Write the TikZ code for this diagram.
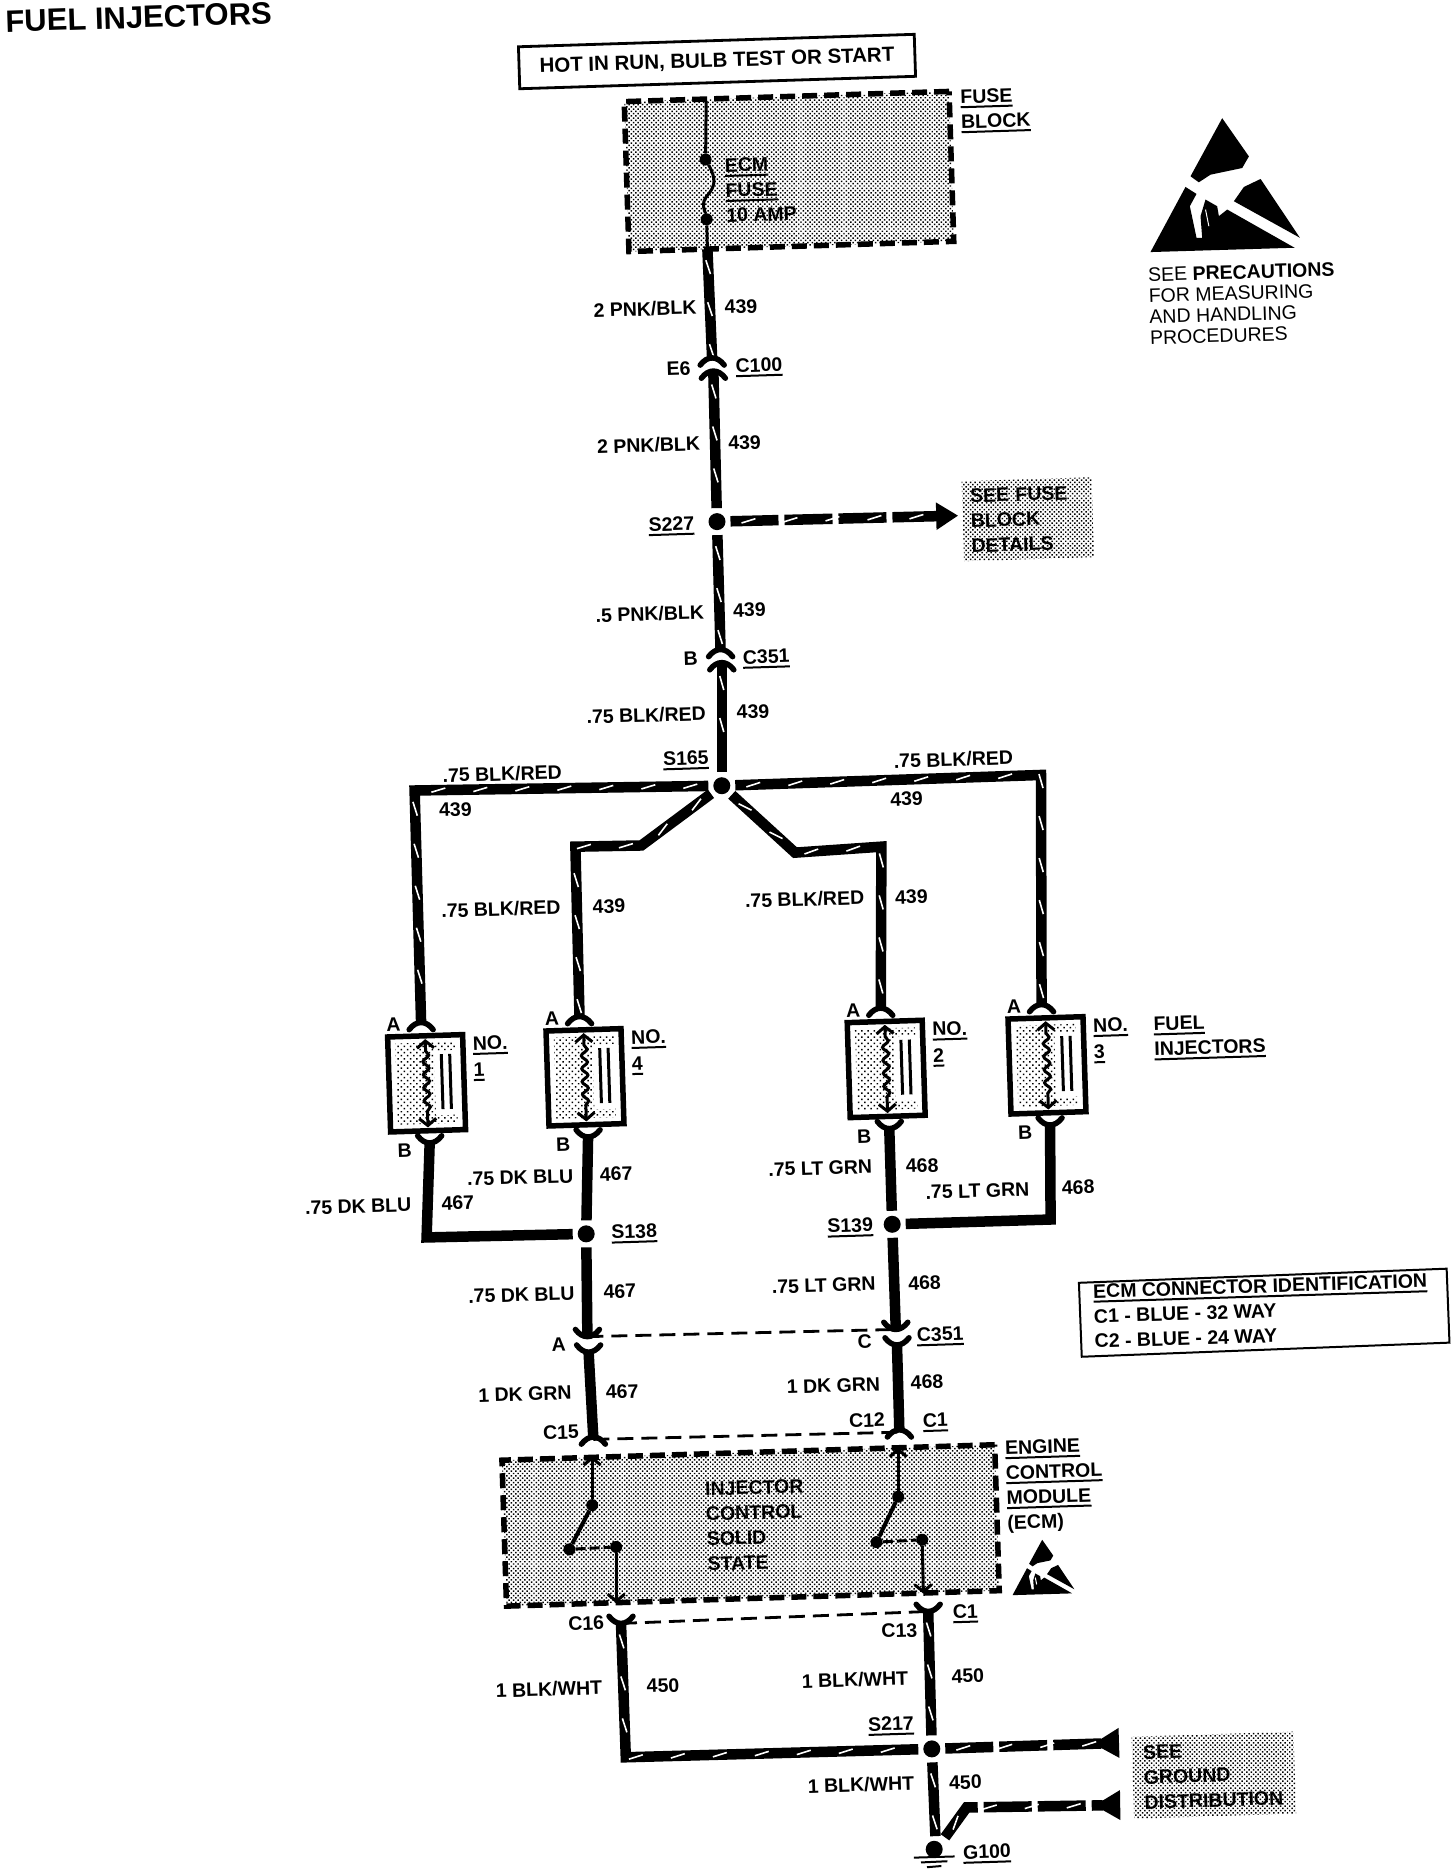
\documentclass[tikz,border=0pt]{standalone}
\usepackage{fontspec}
\setmainfont{Liberation Sans}
\usepackage{tikz}
\usetikzlibrary{patterns,patterns.meta}
\usetikzlibrary{shapes,positioning,calc}
\usetikzlibrary{arrows.meta}
\usetikzlibrary{decorations.markings,decorations.pathmorphing}
\newcommand{\ul}[1]{\vtop{\hbox{#1}\kern2.5pt\hrule height 2pt\kern-4.5pt}}
\tikzstyle{txt} = [rotate=1.8, inner sep=0pt, font=\fontsize{19.5}{25}\bfseries\selectfont, align=left]
\tikzstyle{dotfill} = [pattern={Dots[distance=3.2pt,radius=1.05pt,angle=45]}]
\tikzstyle{dashbox} = [rectangle, rotate=1.8, dotfill, draw=black, line width=5.5pt, dash pattern=on 15pt off 7pt]
\tikzstyle{seebox} = [rectangle, rotate=1.8, dotfill, inner sep=0pt, font=\fontsize{19.5}{25}\bfseries\selectfont, align=left]
\tikzstyle{wire} = [line width=10.5pt]
\tikzstyle{tick} = [wire, postaction={decorate, decoration={markings, mark=between positions 18pt and -8pt step 42pt with {\draw[-,solid,white,line width=1.6pt] (-7pt,-2pt) -- (7pt,2pt);}}}]
\tikzstyle{brk} = [tick, dash pattern=on 48pt off 6pt]
\tikzstyle{thinw} = [line width=3pt]
\tikzstyle{barb} = [line width=3pt, {Straight Barb[length=7pt,width=17pt]}-{Straight Barb[length=7pt,width=17pt]}]
\tikzstyle{shield} = [line width=2.8pt, dash pattern=on 16pt off 8pt]
\tikzstyle{splice} = [circle, fill=black, inner sep=0pt, minimum size=17pt, outer sep=5pt]
\tikzstyle{fdot} = [circle, fill=black, inner sep=0pt, minimum size=12pt]
\tikzset{
  capdn/.pic={\draw[line width=5.5pt,line cap=round] (-10,4) .. controls (-4,-4) and (4,-4) .. (10,4);},
  capup/.pic={\draw[line width=5.5pt,line cap=round] (-10,-6) .. controls (-4,2) and (4,2) .. (10,-6);},
  esd/.pic={
    \fill (0,-200) -- (80,-85) -- (60,-50) -- (-35,-30) -- (-70,-7) -- (-95,-25) -- cycle;
    \fill (115,-17) -- (233,160) -- (35,50) -- (65,7) -- cycle;
    \fill (-110,7) -- (-77,28) -- (-97,65) -- (-77,160) -- (-60,160) -- (-65,95) -- (-50,45) -- (-15,65) -- (-10,95) -- (15,75) -- (217,190) -- (-215,203) -- cycle;
    \draw[white,line width=1pt] (-50,75) -- (-40,125);
  }
}
\begin{document}
\begin{tikzpicture}[x=1.2pt,y=-1.195pt]
\useasboundingbox (2.5,-0.5) rectangle (1215.83,1567.7);
\node[txt, font=\fontsize{31}{31}\bfseries\selectfont] (title) at (118,14) {FUEL INJECTORS};
\node (hot) at (600,51) [rectangle, rotate=1.8, draw=black, line width=2.8pt, minimum width=396pt, minimum height=42pt, font=\fontsize{20.5}{25}\bfseries\selectfont] {HOT IN RUN, BULB TEST OR START};
\node (fuseblk) at (660,143) [dashbox, minimum width=325pt, minimum height=150pt] {};
\node (seefuse) at (859,434) [seebox, minimum width=130pt, minimum height=80pt, text width=114pt] {SEE FUSE\\BLOCK\\DETAILS};
\node (ecm) at (628,1276) [dashbox, minimum width=493pt, minimum height=146pt] {};
\node (seegnd) at (1014,1485) [seebox, minimum width=162pt, minimum height=82pt, text width=140pt] {SEE\\GROUND\\DISTRIBUTION};
\node (ident) at (1056,1098) [rectangle, rotate=2.2, draw=black, line width=2pt, minimum width=368pt, minimum height=74pt] {};
% fuse block
\coordinate (fbtop) at (591,84);
\coordinate (fbbot) at (592,208);
\node (fua) at (590.5,133) [fdot] {};
\node (fub) at (591.4,183) [fdot] {};
\draw[thinw] (fbtop) -- (fua) .. controls (600,150) and (598,156) .. (592,163) .. controls (586,170) and (590,176) .. (fub) -- (fbbot);
\node[txt] (lfuse) at (803,91) [anchor=west] {\ul{FUSE}\\\ul{BLOCK}};
\node[txt] (lecmf) at (607,159) [anchor=west] {\ul{ECM}\\\ul{FUSE}\\10 AMP};
% main run
\coordinate (c100u) at (596,301);
\coordinate (c100l) at (597,312);
\node (s227) at (600,436) [splice] {};
\coordinate (c351u) at (603,545);
\coordinate (c351l) at (604,556);
\node (s165) at (604,657) [splice] {};
\draw[tick] (fbbot) -- (c100u);
\draw[tick] (c100l) -- (s227);
\draw[tick] (s227) -- (c351u);
\draw[tick] (c351l) -- (s165);
\pic at (c100u) {capdn};
\pic at (c100l) {capdn};
\pic at (c351u) {capdn};
\pic at (c351l) {capdn};
\node[txt] (w1) at (540,258) {2 PNK/BLK};
\node[txt] (n1) at (620,256) {439};
\node[txt] (e6) at (568,308) {E6};
\node[txt] (c100) at (635,305) {\ul{C100}};
\node[txt] (w2) at (543,372) {2 PNK/BLK};
\node[txt] (n2) at (623,370) {439};
\node[txt] (ls227) at (562,438) {\ul{S227}};
\coordinate (arrfuse) at (801,431);
\draw[brk, -{Triangle[width=26pt,length=22pt]}] (s227) -- (arrfuse);
\node[txt] (w3) at (544,513) {.5 PNK/BLK};
\node[txt] (n3) at (627,510) {439};
\node[txt] (lb) at (578,551) {B};
\node[txt] (c351) at (641,549) {\ul{C351}};
\node[txt] (w4) at (541,598) {.75 BLK/RED};
\node[txt] (n4) at (630,595) {439};
\node[txt] (ls165) at (574,634) {\ul{S165}};
% injectors
\foreach \n/\x/\y in {1/358/906,4/490/901,2/741/894,3/875/891}{
  \begin{scope}[shift={(\x,\y)},rotate=1.8]
    \node (inj\n) at (0,0) [rectangle, rotate=1.8, draw=black, line width=5.5pt, minimum width=75pt, minimum height=95pt] {};
    \fill[pattern={Dots[distance=4.4pt,radius=1.05pt,angle=45]}] (-25,-34) rectangle (25,34);
    \fill[white] (7,-27) rectangle (26,27);
    \draw[barb, decorate, decoration={snake, segment length=13pt, amplitude=3pt, pre length=12pt, post length=12pt}] (0,-37) -- (0,37);
    \draw[line width=3pt] (13,-24) -- (13,22);
    \draw[line width=3pt] (20,-24) -- (20,22);
    \coordinate (a\n) at (-3,-49);
    \coordinate (b\n) at (1,50);
    \pic at (a\n) {capdn};
    \pic at (b\n) {capup};
    \node[txt] (la\n) at (-26,-50) {A};
    \node[txt] (lb\n) at (-20,56) {B};
    \node[txt] (no\n) at (54,-32) {\ul{NO.}};
    \node[txt] (nm\n) at (44,-10) {\ul{\n}};
  \end{scope}
}
\node[txt] (lfi) at (964,867) [anchor=west] {\ul{FUEL}\\\ul{INJECTORS}};
% upper harness
\coordinate (hl) at (348,661);
\coordinate (hr) at (870,648);
\coordinate (il1) at (537,707);
\coordinate (il2) at (482,708);
\coordinate (ir1) at (665,713);
\coordinate (ir2) at (737,708);
\draw[tick] (s165) -- (hl) -- (a1);
\draw[tick] (s165) -- (hr) -- (a3);
\draw[tick] (s165) -- (il1) -- (il2) -- (a4);
\draw[tick] (s165) -- (ir1) -- (ir2) -- (a2);
\node[txt] (w5) at (421,647) {.75 BLK/RED};
\node[txt] (n5) at (382,677) {439};
\node[txt] (w6) at (797,635) {.75 BLK/RED};
\node[txt] (n6) at (758,668) {439};
\node[txt] (w7) at (420,760) {.75 BLK/RED};
\node[txt] (n7) at (510,758) {439};
\node[txt] (w8) at (673,752) {.75 BLK/RED};
\node[txt] (n8) at (762,750) {439};
% lower harness
\node (s138) at (491,1032) [splice] {};
\node (s139) at (746,1024) [splice] {};
\coordinate (dl) at (358,1035);
\coordinate (dr) at (878,1020);
\coordinate (c351a) at (492,1118);
\coordinate (c351b) at (493,1131);
\coordinate (c351c) at (749,1112);
\coordinate (c351d) at (750,1125);
\coordinate (c15) at (497,1204);
\coordinate (c12) at (752,1198);
\draw[wire] (b1) -- (dl) -- (s138);
\draw[wire] (b4) -- (s138);
\draw[wire] (s138) -- (c351a);
\draw[wire] (b2) -- (s139);
\draw[wire] (b3) -- (dr) -- (s139);
\draw[wire] (s139) -- (c351c);
\draw[wire] (c351b) -- (c15);
\draw[wire] (c351d) -- (c12);
\pic at (c351a) {capup};
\pic at (c351b) {capup};
\pic at (c351c) {capup};
\pic at (c351d) {capup};
\pic at (c15) {capdn};
\pic at (c12) {capdn};
\draw[shield] (c351a) -- (c351c);
\draw[shield] (c15) -- (c12);
\node[txt] (w9) at (301,1009) {.75 DK BLU};
\node[txt] (n9) at (384,1006) {467};
\node[txt] (w10) at (436,985) {.75 DK BLU};
\node[txt] (n10) at (516,982) {467};
\node[txt] (ls138) at (531,1030) {\ul{S138}};
\node[txt] (w11) at (437,1083) {.75 DK BLU};
\node[txt] (n11) at (519,1080) {467};
\node[txt] (la2) at (468,1125) {A};
\node[txt] (w12) at (440,1166) {1 DK GRN};
\node[txt] (n12) at (521,1164) {467};
\node[txt] (lc15) at (470,1198) {C15};
\node[txt] (w13) at (686,977) {.75 LT GRN};
\node[txt] (n13) at (771,975) {468};
\node[txt] (w14) at (817,996) {.75 LT GRN};
\node[txt] (n14) at (901,993) {468};
\node[txt] (ls139) at (711,1025) {\ul{S139}};
\node[txt] (w15) at (689,1075) {.75 LT GRN};
\node[txt] (n15) at (773,1073) {468};
\node[txt] (lc) at (723,1122) {C};
\node[txt] (c351r) at (786,1116) {\ul{C351}};
\node[txt] (w16) at (697,1159) {1 DK GRN};
\node[txt] (n16) at (775,1156) {468};
\node[txt] (lc12) at (725,1188) {C12};
\node[txt] (lc1) at (782,1188) {\ul{C1}};
\node[txt] (lident) at (914,1101) [anchor=west] {\ul{ECM CONNECTOR IDENTIFICATION}\\C1 - BLUE - 32 WAY\\C2 - BLUE - 24 WAY};
% ecm internals
\coordinate (sw1t) at (496,1218);
\node (sw1a) at (496,1259) [fdot] {};
\node (sw1b) at (477,1296) [fdot] {};
\node (sw1c) at (516,1294) [fdot] {};
\coordinate (sw1e) at (516,1341);
\coordinate (sw2t) at (751,1211);
\node (sw2a) at (751,1252) [fdot] {};
\node (sw2b) at (733,1290) [fdot] {};
\node (sw2c) at (771,1288) [fdot] {};
\coordinate (sw2e) at (772,1333);
\draw[thinw, -{Straight Barb[length=7pt,width=17pt]}] (sw1a) -- (sw1t);
\draw[line width=4pt] (sw1a) -- (sw1b);
\draw[thinw, dash pattern=on 10pt off 4pt] (sw1b) -- (sw1c);
\draw[thinw, -{Straight Barb[length=7pt,width=17pt]}] (sw1c) -- (sw1e);
\draw[thinw, -{Straight Barb[length=7pt,width=17pt]}] (sw2a) -- (sw2t);
\draw[line width=4pt] (sw2a) -- (sw2b);
\draw[thinw, dash pattern=on 10pt off 4pt] (sw2b) -- (sw2c);
\draw[thinw, -{Straight Barb[length=7pt,width=17pt]}] (sw2c) -- (sw2e);
\node[txt] (lict) at (591,1277) [anchor=west] {INJECTOR\\CONTROL\\SOLID\\STATE};
\node[txt] (lecm) at (841,1244) [anchor=west] {\ul{ENGINE}\\\ul{CONTROL}\\\ul{MODULE}\\(ECM)};
\pic[scale=0.115] at (871,1311) {esd};
\pic[scale=0.278] at (1021,154) {esd};
\node[txt, font=\fontsize{19.5}{21}\selectfont] (lprec) at (960,256) [anchor=west] {SEE \textbf{PRECAUTIONS}\\FOR MEASURING\\AND HANDLING\\PROCEDURES};
% ground side
\coordinate (c16) at (520,1358);
\coordinate (c13) at (776,1348);
\coordinate (dg) at (524,1470);
\node (s217) at (779,1463) [splice] {};
\node (g100) at (781,1547) [circle, fill=black, inner sep=0pt, minimum size=17pt] {};
\coordinate (gb) at (808,1512);
\coordinate (tg1) at (935,1458);
\coordinate (tg2) at (936,1510);
\coordinate (gt) at (782,1536);
\coordinate (gd) at (790,1537);
\draw[tick] (c16) -- (dg) -- (s217);
\draw[tick] (c13) -- (s217);
\draw[tick] (s217) -- (gt);
\draw[brk, -{Triangle[reversed,width=28pt,length=26pt]}] (s217) -- (tg1);
\draw[brk, -{Triangle[reversed,width=28pt,length=26pt]}] (gd) -- (gb) -- (tg2);
\pic at (c16) {capup};
\pic at (c13) {capup};
\draw[shield] (c16) -- (c13);
\coordinate (g1l) at (764,1554);
\coordinate (g1r) at (798,1553);
\coordinate (g2l) at (770,1558);
\coordinate (g2r) at (792,1557);
\coordinate (g3l) at (775,1562);
\coordinate (g3r) at (787,1561);
\draw[line width=2pt] (g1l) -- (g1r);
\draw[line width=2pt] (g2l) -- (g2r);
\draw[line width=2pt] (g3l) -- (g3r);
\node[txt] (lc16) at (491,1358) {C16};
\node[txt] (lc13) at (752,1364) {C13};
\node[txt] (lc1b) at (807,1348) {\ul{C1}};
\node[txt] (w17) at (460,1413) {1 BLK/WHT};
\node[txt] (n17) at (555,1410) {450};
\node[txt] (w18) at (715,1405) {1 BLK/WHT};
\node[txt] (n18) at (809,1402) {450};
\node[txt] (ls217) at (745,1442) {\ul{S217}};
\node[txt] (w19) at (720,1493) {1 BLK/WHT};
\node[txt] (n19) at (807,1491) {450};
\node[txt] (lg100) at (825,1549) {\ul{G100}};
\end{tikzpicture}
\end{document}
